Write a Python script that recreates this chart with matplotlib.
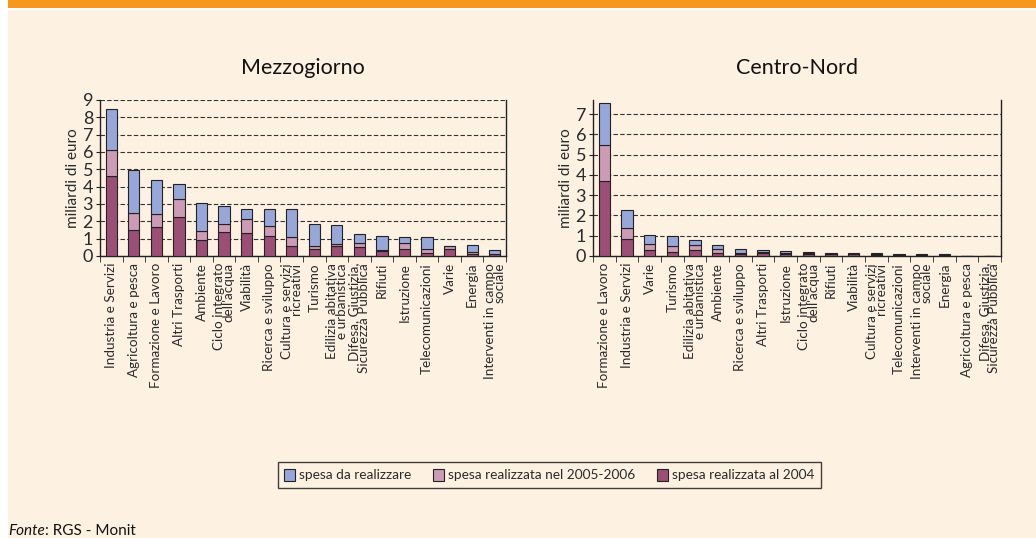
import numpy as np
import matplotlib
matplotlib.use("Agg")
from matplotlib import pyplot as plt
from matplotlib.patches import Rectangle, Patch

plt.rcParams["font.family"] = ["Lato", "DejaVu Sans"]

# %% Daten (miliardi di euro)
sud_cat = ["Industria e Servizi", "Agricoltura e pesca", "Formazione e Lavoro",
           "Altri Trasporti", "Ambiente", "Ciclo integrato\ndell'acqua", "Viabilità",
           "Ricerca e sviluppo", "Cultura e servizi\nricreativi", "Turismo",
           "Edilizia abitativa\ne urbanistica", "Difesa, Giustizia,\nSicurezza Pubblica",
           "Rifiuti", "Istruzione", "Telecomunicazioni", "Varie", "Energia",
           "Interventi in campo\nsociale"]
sud_2004 = [4.62, 1.49, 1.66, 2.24, 0.95, 1.41, 1.35, 1.14, 0.60, 0.43, 0.56, 0.50,
            0.31, 0.43, 0.19, 0.38, 0.14, 0.10]
sud_0506 = [1.47, 1.00, 0.77, 1.03, 0.50, 0.46, 0.79, 0.58, 0.52, 0.17, 0.15, 0.25,
            0.06, 0.34, 0.22, 0.20, 0.09, 0.04]
sud_dare = [2.39, 2.48, 1.94, 0.87, 1.58, 1.01, 0.60, 0.97, 1.57, 1.27, 1.07, 0.53,
            0.79, 0.33, 0.67, 0.02, 0.43, 0.23]

nord_cat = ["Formazione e Lavoro", "Industria e Servizi", "Varie", "Turismo",
            "Edilizia abitativa\ne urbanistica", "Ambiente", "Ricerca e sviluppo",
            "Altri Trasporti", "Istruzione", "Ciclo integrato\ndell'acqua", "Rifiuti",
            "Viabilità", "Cultura e servizi\nricreativi", "Telecomunicazioni",
            "Interventi in campo\nsociale", "Energia", "Agricoltura e pesca",
            "Difesa, Giustizia,\nSicurezza Pubblica"]
nord_2004 = [3.71, 0.83, 0.31, 0.21, 0.28, 0.17, 0.08, 0.15, 0.12, 0.10, 0.08, 0.08,
             0.07, 0.05, 0.04, 0.04, 0.0, 0.0]
nord_0506 = [1.77, 0.54, 0.27, 0.27, 0.25, 0.19, 0.09, 0.05, 0.05, 0.03, 0.02, 0.02,
             0.02, 0.02, 0.02, 0.02, 0.0, 0.0]
nord_dare = [2.06, 0.89, 0.48, 0.51, 0.28, 0.17, 0.16, 0.11, 0.09, 0.05, 0.04, 0.04,
             0.04, 0.04, 0.03, 0.03, 0.0, 0.0]

serie = ["spesa da realizzare", "spesa realizzata nel 2005-2006", "spesa realizzata al 2004"]
farben = ["#98A7D9", "#CC9BB5", "#9C4F76"]

crema = "#FDF1E1"
testo = "#2A2A2A"

# %% Figur
fig = plt.figure(figsize=(10.36, 5.38), dpi=100, facecolor="white")
W, H = 1036, 538
fig.patches.append(Rectangle((8 / W, 0), 1 - 8 / W, (H - 10) / H, transform=fig.transFigure,
                             facecolor=crema, edgecolor="none", zorder=-10))
fig.patches.append(Rectangle((8 / W, (H - 8) / H), 1 - 8 / W, 8 / H, transform=fig.transFigure,
                             facecolor="#F7981D", edgecolor="none", zorder=-10))


def pannello(rect, cats, b04, b0506, dare, ymax, titolo):
    ax = fig.add_axes(rect)
    ax.set_facecolor("none")
    x = np.arange(len(cats))
    b04 = np.array(b04)
    b0506 = np.array(b0506)
    dare = np.array(dare)
    kw = dict(width=0.5, edgecolor="#222222", linewidth=0.8, zorder=3)
    ax.bar(x, b04, color=farben[2], **kw)
    ax.bar(x, b0506, bottom=b04, color=farben[1], **kw)
    ax.bar(x, dare, bottom=b04 + b0506, color=farben[0], **kw)

    ax.set_xlim(-0.5, len(cats) - 0.5)
    ax.set_ylim(0, ymax)
    ax.set_yticks(range(int(ymax) + 1))
    ax.yaxis.grid(True, linestyle=(0, (4, 2)), color="#333333", linewidth=0.8)
    ax.set_axisbelow(True)
    ax.spines["top"].set_visible(False)
    for s in ["left", "bottom", "right"]:
        ax.spines[s].set_linewidth(1.0)
        ax.spines[s].set_color("#222222")

    ax.set_xticks(x)
    ax.set_xticklabels(cats, rotation=90, va="top", ha="center", multialignment="right",
                       linespacing=0.75, fontsize=9.7, color=testo)
    ax.set_xticks(np.arange(-0.5, len(cats), 1), minor=True)
    ax.tick_params(axis="x", which="major", length=0, pad=5)
    ax.tick_params(axis="x", which="minor", length=4, direction="out", color="#222222")
    ax.tick_params(axis="y", length=3, direction="out", labelsize=13, labelcolor=testo,
                   pad=2, color="#222222")
    ax.set_ylabel("miliardi di euro", fontsize=11, color=testo, labelpad=2)
    ax.set_title(titolo, fontsize=15.5, color="#111111", pad=19)
    return ax


ax1 = pannello([100 / W, (H - 256) / H, 406 / W, 156 / H], sud_cat, sud_2004, sud_0506,
               sud_dare, 9, "Mezzogiorno")
ax2 = pannello([593 / W, (H - 256) / H, 408 / W, 156 / H], nord_cat, nord_2004, nord_0506,
               nord_dare, 7.7, "Centro-Nord")

handles = [Patch(facecolor=c, edgecolor="#222222", linewidth=0.8) for c in farben]
leg = fig.legend(handles, serie, loc="center", bbox_to_anchor=(549.5 / W, (H - 475) / H),
                 ncol=3, fontsize=9.8, frameon=True, fancybox=False, shadow=False,
                 handlelength=0.8, handleheight=1.0, handletextpad=0.3, columnspacing=1.6,
                 borderpad=0.5, labelcolor=testo)
leg.get_frame().set_edgecolor("#111111")
leg.get_frame().set_facecolor(crema)
leg.get_frame().set_linewidth(1.0)

t1 = fig.text(8 / W, (H - 538) / H, "Fonte", fontsize=11, style="italic", color="#111111",
              va="bottom", ha="left")
ax1.annotate(": RGS - Monit", xy=(1, 0), xycoords=t1, va="bottom", ha="left",
             fontsize=11, color="#111111", annotation_clip=False)

fig.savefig("out.png", dpi=100, facecolor=fig.get_facecolor())
